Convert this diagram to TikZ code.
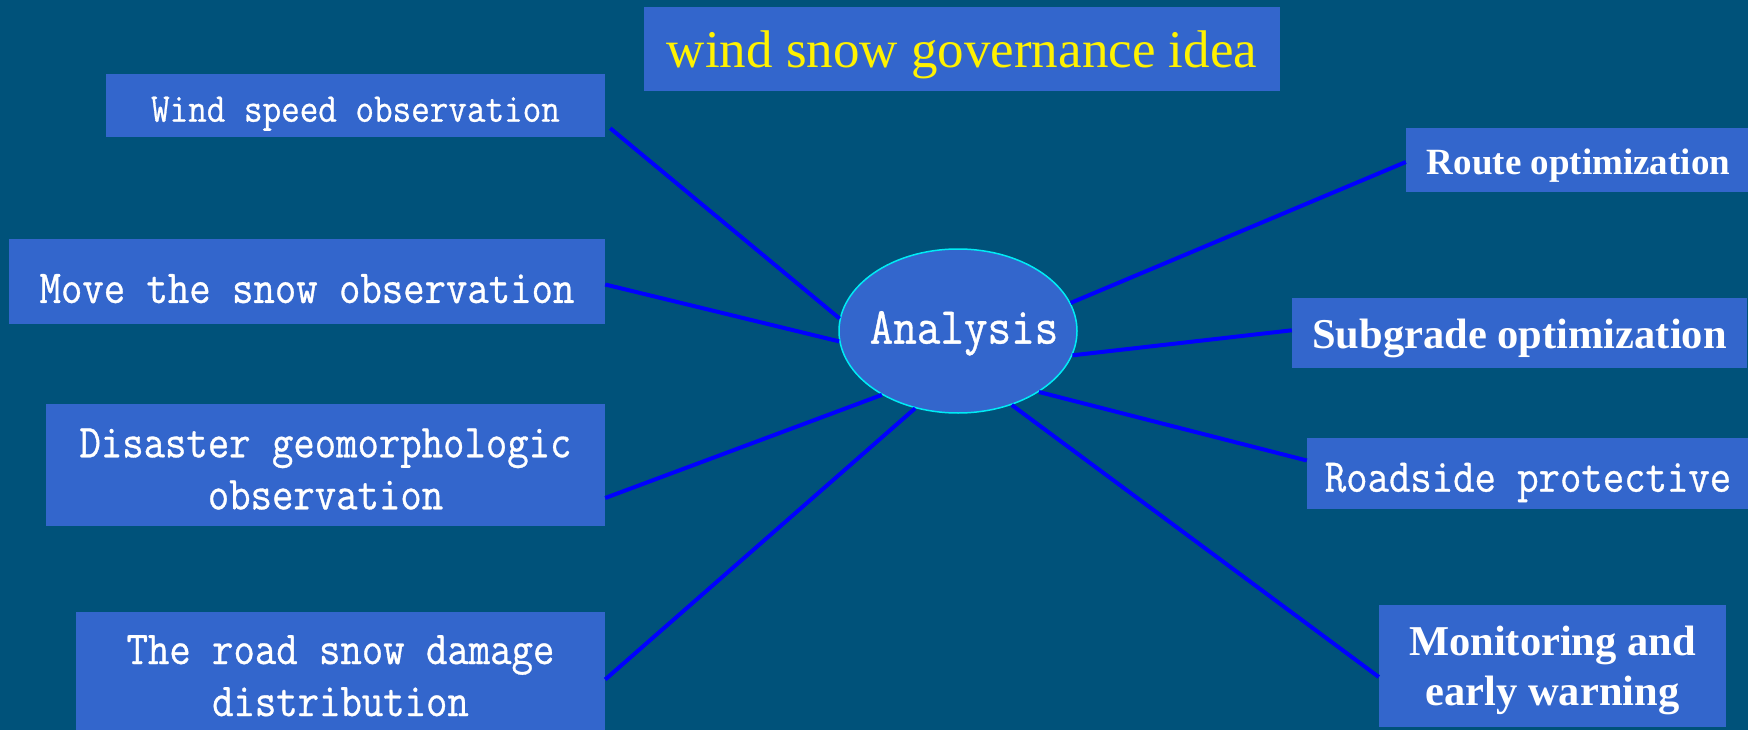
\documentclass[tikz,border=0pt]{standalone}
\usepackage{fontspec}
\setmainfont{Liberation Serif}
\newfontfamily\monof[FakeStretch=0.88,FakeBold=0.7]{Latin Modern Mono}
\usetikzlibrary{shapes.geometric,calc}
\definecolor{bgc}{RGB}{0,82,122}
\definecolor{boxc}{RGB}{51,102,204}
\definecolor{linec}{RGB}{0,0,255}
\definecolor{rimc}{RGB}{0,235,245}
\begin{document}
\begin{tikzpicture}[x=1pt,y=-1pt,
  box/.style={fill=boxc,text=white,inner sep=0pt,align=center,anchor=center,text depth=0pt},
  txt/.style={text=white,inner sep=0pt,align=center,anchor=center,text depth=0pt},
  monobig/.style={font=\monof\fontsize{47.2}{52}\selectfont},
  boldtxt/.style={font=\bfseries\fontsize{42.5}{50}\selectfont},
  link/.style={draw=linec,line width=4pt}]
\fill[bgc] (0,0) rectangle (1748,730);
\useasboundingbox (0,0) rectangle (1748,730);
% title
\node[box,minimum width=636pt,minimum height=84pt,text=yellow,font=\fontsize{53}{60}\selectfont] (title) at (962,49) {wind snow governance idea};
% left boxes
\node[box,minimum width=499pt,minimum height=63pt] (ws) at (355.5,105.5) {};
\node[txt,font=\monof\fontsize{41}{44}\selectfont] (wst) at ($(ws.center)+(0,3.7)$) {Wind speed observation};
\node[box,minimum width=596pt,minimum height=84pt] (mv) at (307,281.5) {};
\node[txt,monobig] (mvt) at ($(mv.center)+(0,7)$) {Move the snow observation};
\node[box,minimum width=559pt,minimum height=122pt] (dg) at (325.5,465) {};
\node[txt,monobig] (dgt) at ($(dg.center)+(0,3.9)$) {Disaster geomorphologic\\observation};
\node[box,minimum width=529pt,minimum height=129pt] (rd) at (340.5,676.5) {};
\node[txt,monobig] (rdt) at ($(rd.center)+(0,-0.9)$) {The road snow damage\\distribution};
% center
\node[ellipse,fill=boxc,draw=rimc,line width=1.5pt,inner sep=0pt,minimum width=238pt,minimum height=164pt] (an) at (958,331) {};
\node[txt,font=\monof\fontsize{52}{56}\selectfont] (ant) at ($(an.center)+(6,-3.6)$) {Analysis};
% right boxes
\node[box,font=\bfseries\fontsize{37}{44}\selectfont,minimum width=345pt,minimum height=64pt] (ro) at (1578.5,160) {};
\node[txt,font=\bfseries\fontsize{37}{44}\selectfont] (rot) at ($(ro.center)+(0,1.2)$) {Route optimization};
\node[box,boldtxt,minimum width=455pt,minimum height=70pt] (sg) at (1519.5,333.3) {Subgrade optimization};
\node[box,minimum width=442pt,minimum height=71pt] (rs) at (1528,473.5) {};
\node[txt,monobig] (rst) at ($(rs.center)+(0,3.8)$) {Roadside protective};
\node[box,boldtxt,minimum width=347pt,minimum height=122pt] (mo) at (1552.5,666) {Monitoring and\\early warning};
% connectors
\draw[link] ($(ws.south east)+(5,-9)$) -- (an.174);
\draw[link] ($(mv.east)+(0,3)$) -- (an.185);
\draw[link] ($(dg.east)+(0,33)$) -- (an.220);
\draw[link] ($(rd.east)+(0,3)$) -- (an.241);
\draw[link] ($(ro.west)+(0,2)$) -- (an.14.5);
\draw[link] ($(sg.west)+(0,-3)$) -- (an.348.5);
\draw[link] ($(rs.west)+(0,-13)$) -- (an.323.7);
\draw[link] ($(mo.west)+(0,11)$) -- (an.306.4);
\end{tikzpicture}
\end{document}
